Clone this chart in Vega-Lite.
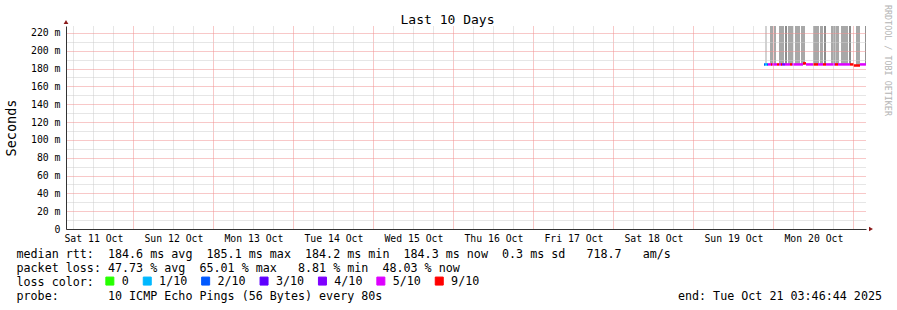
{
  "$schema": "https://vega.github.io/schema/vega-lite/v6.json",
  "width": 800,
  "height": 203,
  "autosize": {"type": "none"},
  "padding": {"left": 66, "top": 26, "right": 31, "bottom": 81},
  "background": "#ffffff",
  "config": {"view": {"stroke": null}},
  "title": {"text": "Last 10 Days", "font": "DejaVu Sans Mono", "fontSize": 13, "fontWeight": "normal", "color": "#000000", "anchor": "middle", "frame": "group", "dx": -18.5, "dy": 35, "offset": 7, "baseline": "middle"},
  "datasets": {
    "smoke": [
      {"s": "2025-10-19T21:29:00Z", "e": "2025-10-19T22:05:00Z", "lo": 0.1840, "hi": 0.26, "k": "light"},
      {"s": "2025-10-19T22:59:00Z", "e": "2025-10-19T23:53:00Z", "lo": 0.1840, "hi": 0.26, "k": "mid"},
      {"s": "2025-10-20T00:11:00Z", "e": "2025-10-20T00:47:00Z", "lo": 0.1840, "hi": 0.26, "k": "mid"},
      {"s": "2025-10-20T01:41:00Z", "e": "2025-10-20T03:11:00Z", "lo": 0.1840, "hi": 0.26, "k": "mid"},
      {"s": "2025-10-20T03:29:00Z", "e": "2025-10-20T04:05:00Z", "lo": 0.1840, "hi": 0.26, "k": "dark"},
      {"s": "2025-10-20T04:23:00Z", "e": "2025-10-20T05:53:00Z", "lo": 0.1840, "hi": 0.26, "k": "mid"},
      {"s": "2025-10-20T06:29:00Z", "e": "2025-10-20T07:59:00Z", "lo": 0.1840, "hi": 0.26, "k": "mid"},
      {"s": "2025-10-20T08:17:00Z", "e": "2025-10-20T09:29:00Z", "lo": 0.1840, "hi": 0.26, "k": "mid"},
      {"s": "2025-10-20T11:53:00Z", "e": "2025-10-20T13:41:00Z", "lo": 0.1840, "hi": 0.26, "k": "mid"},
      {"s": "2025-10-20T13:59:00Z", "e": "2025-10-20T14:53:00Z", "lo": 0.1840, "hi": 0.26, "k": "mid"},
      {"s": "2025-10-20T15:11:00Z", "e": "2025-10-20T15:47:00Z", "lo": 0.1840, "hi": 0.26, "k": "dark"},
      {"s": "2025-10-20T17:17:00Z", "e": "2025-10-20T18:29:00Z", "lo": 0.1840, "hi": 0.26, "k": "mid"},
      {"s": "2025-10-20T18:35:00Z", "e": "2025-10-20T19:41:00Z", "lo": 0.1840, "hi": 0.26, "k": "mid"},
      {"s": "2025-10-20T20:17:00Z", "e": "2025-10-20T22:23:00Z", "lo": 0.1840, "hi": 0.26, "k": "mid"},
      {"s": "2025-10-20T22:41:00Z", "e": "2025-10-20T23:17:00Z", "lo": 0.1840, "hi": 0.26, "k": "dark"},
      {"s": "2025-10-21T00:47:00Z", "e": "2025-10-21T01:59:00Z", "lo": 0.1840, "hi": 0.26, "k": "mid"},
      {"s": "2025-10-21T03:29:00Z", "e": "2025-10-21T03:46:00Z", "lo": 0.1840, "hi": 0.26, "k": "dark"}
    ],
    "median": [
      {"s": "2025-10-19T21:11:00Z", "e": "2025-10-19T21:29:00Z", "m": 0.1846, "loss": "2/10"},
      {"s": "2025-10-19T21:29:00Z", "e": "2025-10-19T22:05:00Z", "m": 0.1846, "loss": "1/10"},
      {"s": "2025-10-19T22:05:00Z", "e": "2025-10-19T22:23:00Z", "m": 0.1846, "loss": "2/10"},
      {"s": "2025-10-19T22:23:00Z", "e": "2025-10-19T23:17:00Z", "m": 0.1846, "loss": "5/10"},
      {"s": "2025-10-19T23:17:00Z", "e": "2025-10-19T23:35:00Z", "m": 0.1846, "loss": "9/10"},
      {"s": "2025-10-19T23:35:00Z", "e": "2025-10-20T01:05:00Z", "m": 0.1846, "loss": "5/10"},
      {"s": "2025-10-20T01:05:00Z", "e": "2025-10-20T01:41:00Z", "m": 0.1846, "loss": "9/10"},
      {"s": "2025-10-20T01:41:00Z", "e": "2025-10-20T02:17:00Z", "m": 0.1846, "loss": "5/10"},
      {"s": "2025-10-20T02:17:00Z", "e": "2025-10-20T02:35:00Z", "m": 0.1846, "loss": "9/10"},
      {"s": "2025-10-20T02:35:00Z", "e": "2025-10-20T03:29:00Z", "m": 0.1846, "loss": "4/10"},
      {"s": "2025-10-20T03:29:00Z", "e": "2025-10-20T04:59:00Z", "m": 0.1846, "loss": "5/10"},
      {"s": "2025-10-20T04:59:00Z", "e": "2025-10-20T05:35:00Z", "m": 0.1846, "loss": "9/10"},
      {"s": "2025-10-20T05:35:00Z", "e": "2025-10-20T08:53:00Z", "m": 0.1846, "loss": "5/10"},
      {"s": "2025-10-20T08:53:00Z", "e": "2025-10-20T09:47:00Z", "m": 0.1858, "loss": "9/10"},
      {"s": "2025-10-20T09:47:00Z", "e": "2025-10-20T11:53:00Z", "m": 0.1846, "loss": "5/10"},
      {"s": "2025-10-20T11:53:00Z", "e": "2025-10-20T13:23:00Z", "m": 0.1846, "loss": "9/10"},
      {"s": "2025-10-20T13:23:00Z", "e": "2025-10-20T14:53:00Z", "m": 0.1846, "loss": "5/10"},
      {"s": "2025-10-20T14:53:00Z", "e": "2025-10-20T15:47:00Z", "m": 0.1846, "loss": "9/10"},
      {"s": "2025-10-20T15:47:00Z", "e": "2025-10-20T18:29:00Z", "m": 0.1846, "loss": "5/10"},
      {"s": "2025-10-20T18:29:00Z", "e": "2025-10-20T19:23:00Z", "m": 0.1846, "loss": "9/10"},
      {"s": "2025-10-20T19:23:00Z", "e": "2025-10-20T22:59:00Z", "m": 0.1846, "loss": "5/10"},
      {"s": "2025-10-20T22:59:00Z", "e": "2025-10-21T00:05:00Z", "m": 0.1846, "loss": "9/10"},
      {"s": "2025-10-21T00:05:00Z", "e": "2025-10-21T01:59:00Z", "m": 0.1834, "loss": "9/10"},
      {"s": "2025-10-21T01:59:00Z", "e": "2025-10-21T03:46:00Z", "m": 0.1846, "loss": "5/10"}
    ]
  },
  "layer": [
    {
      "data": {"name": "smoke"},
      "mark": {"type": "rect", "clip": true},
      "encoding": {
        "x": {
          "field": "s", "type": "temporal",
          "scale": {"type": "utc", "domain": [1760154404000, 1761018404000]},
          "axis": {
            "values": [1760162400000, 1760184000000, 1760205600000, 1760248800000, 1760270400000, 1760292000000, 1760335200000, 1760356800000, 1760378400000, 1760421600000, 1760443200000, 1760464800000, 1760508000000, 1760529600000, 1760551200000, 1760594400000, 1760616000000, 1760637600000, 1760680800000, 1760702400000, 1760724000000, 1760767200000, 1760788800000, 1760810400000, 1760853600000, 1760875200000, 1760896800000, 1760940000000, 1760961600000, 1760983200000],
            "labelExpr": "utchours(datum.value) == 12 ? utcFormat(datum.value, '%a %d %b') : ''",
            "labelOverlap": false, "labelFlush": false, "labelBound": false,
            "labelFont": "DejaVu Sans Mono", "labelFontSize": 9.8, "labelColor": "#000000", "labelPadding": 4,
            "ticks": false,
            "grid": true, "gridDash": [1, 1], "gridWidth": 1, "gridColor": "#cccccc",
            "domainColor": "#333333", "domainWidth": 1,
            "zindex": 1,
            "title": [
              "median rtt:\u00a0\u00a0184.6 ms avg\u00a0\u00a0185.1 ms max\u00a0\u00a0184.2 ms min\u00a0\u00a0184.3 ms now\u00a0\u00a00.3 ms sd\u00a0\u00a0\u00a0718.7\u00a0\u00a0\u00a0am/s",
              "packet loss: 47.73 % avg\u00a0\u00a065.01 % max\u00a0\u00a0\u00a08.81 % min\u00a0\u00a048.03 % now",
              "loss color:",
              "probe:\u00a0\u00a0\u00a0\u00a0\u00a0\u00a0\u00a010 ICMP Echo Pings (56 Bytes) every 80s\u00a0\u00a0\u00a0\u00a0\u00a0\u00a0\u00a0\u00a0\u00a0\u00a0\u00a0\u00a0\u00a0\u00a0\u00a0\u00a0\u00a0\u00a0\u00a0\u00a0\u00a0\u00a0\u00a0\u00a0\u00a0\u00a0\u00a0\u00a0\u00a0\u00a0\u00a0\u00a0\u00a0\u00a0\u00a0\u00a0\u00a0\u00a0\u00a0\u00a0\u00a0\u00a0end: Tue Oct 21 03:46:44 2025"
            ],
            "titleFont": "DejaVu Sans Mono", "titleFontSize": 11.7, "titleFontWeight": "normal", "titleColor": "#000000",
            "titleLineHeight": 14, "titleAlign": "left", "titleAnchor": "start", "titleBaseline": "top",
            "titleX": -50, "titleY": 19
          }
        },
        "x2": {"field": "e"},
        "y": {
          "field": "lo", "type": "quantitative",
          "scale": {"domain": [0, 0.2277], "nice": false, "zero": false},
          "axis": {
            "values": [0, 0.01, 0.02, 0.03, 0.04, 0.05, 0.06, 0.07, 0.08, 0.09, 0.1, 0.11, 0.12, 0.13, 0.14, 0.15, 0.16, 0.17, 0.18, 0.19, 0.2, 0.21, 0.22],
            "labelExpr": "datum.value == 0 ? '0' : (round(datum.value * 100) % 2 == 0 ? format(round(datum.value * 1000), 'd') + ' m' : '')",
            "labelOverlap": false, "labelFont": "DejaVu Sans Mono", "labelFontSize": 9.8, "labelColor": "#000000", "labelPadding": 6,
            "ticks": false,
            "grid": true, "gridDash": [1, 1], "gridWidth": 1,
            "gridColor": {"condition": {"test": "round(datum.value * 100) % 2 == 0", "value": "#f09090"}, "value": "#cccccc"},
            "domainColor": "#333333", "domainWidth": 1,
            "zindex": 1,
            "title": "Seconds",
            "titleFont": "DejaVu Sans Mono", "titleFontSize": 13.5, "titleFontWeight": "normal", "titleColor": "#000000",
            "titleAngle": -90, "titleAlign": "center", "titleBaseline": "middle", "titleX": -55, "titleY": 101.5
          }
        },
        "y2": {"field": "hi"},
        "fill": {"field": "k", "type": "nominal", "scale": {"domain": ["light", "mid", "dark"], "range": ["#d2d2d2", "#a8a8a8", "#8c8c8c"]}, "legend": null}
      }
    },
    {
      "data": {"name": "median"},
      "mark": {"type": "rule", "strokeWidth": 2.5, "clip": true},
      "encoding": {
        "x": {
          "field": "s", "type": "temporal",
          "axis": {
            "orient": "bottom",
            "values": [1760227200000, 1760313600000, 1760400000000, 1760486400000, 1760572800000, 1760659200000, 1760745600000, 1760832000000, 1760918400000, 1761004800000],
            "labels": false, "ticks": false, "domain": false, "title": null,
            "grid": true, "gridDash": [1, 1], "gridWidth": 1, "gridColor": "#f09090",
            "zindex": 1
          }
        },
        "x2": {"field": "e"},
        "y": {
          "field": "m", "type": "quantitative",
          "axis": {
            "orient": "right", "labels": false, "ticks": false, "domain": false, "grid": false,
            "title": "RRDTOOL / TOBI OETIKER",
            "titleFont": "DejaVu Sans Mono", "titleFontSize": 8.4, "titleFontWeight": "normal", "titleColor": "#b4b4b4",
            "titleAngle": 90, "titleAlign": "center", "titleBaseline": "middle", "titleX": 21.5, "titleY": 34
          }
        },
        "color": {
          "field": "loss", "type": "nominal",
          "scale": {"domain": ["0", "1/10", "2/10", "3/10", "4/10", "5/10", "9/10"], "range": ["#26ff00", "#00b8ff", "#0059ff", "#5e00ff", "#7e00ff", "#dd00ff", "#ff0000"]},
          "legend": {
            "orient": "none", "legendX": 38, "legendY": 249, "direction": "horizontal", "title": null,
            "symbolType": "square", "symbolSize": 64, "symbolStrokeWidth": 1, "symbolStrokeColor": "#000000",
            "labelFont": "DejaVu Sans Mono", "labelFontSize": 11.7, "labelColor": "#000000", "labelOffset": 6,
            "columnPadding": 11.4, "padding": 0,
            "encode": {"symbols": {"update": {"fill": {"scale": "color", "field": "value"}, "stroke": {"value": "#000000"}, "strokeWidth": {"value": 1}, "opacity": {"value": 1}}}}
          }
        }
      }
    },
    {
      "data": {"values": [{}]},
      "mark": {"type": "point", "shape": "triangle-up", "filled": true, "color": "#8b1a1a", "size": 22, "opacity": 1, "yOffset": -4, "clip": false},
      "encoding": {
        "x": {"datum": 1760154404000, "type": "temporal", "axis": null},
        "y": {"datum": 0.2277, "type": "quantitative", "axis": null}
      }
    },
    {
      "data": {"values": [{}]},
      "mark": {"type": "point", "shape": "triangle-right", "filled": true, "color": "#8b1a1a", "size": 22, "opacity": 1, "xOffset": 5, "clip": false},
      "encoding": {
        "x": {"datum": 1761018404000, "type": "temporal", "axis": null},
        "y": {"datum": 0, "type": "quantitative", "axis": null}
      }
    }
  ],
  "resolve": {"axis": {"x": "independent", "y": "independent"}}
}
